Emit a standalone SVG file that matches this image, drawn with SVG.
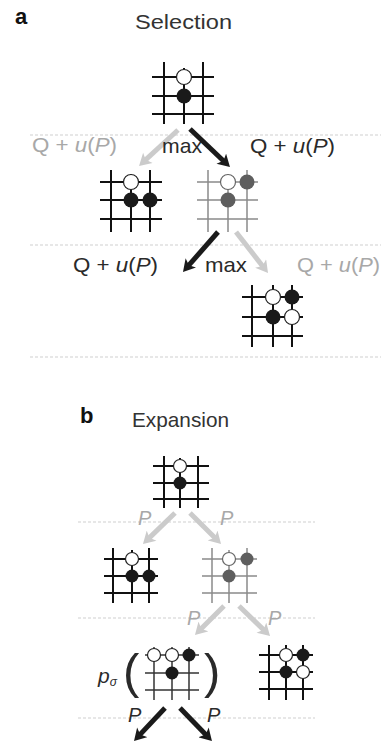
<svg xmlns="http://www.w3.org/2000/svg" width="381" height="741" viewBox="0 0 381 741">
<style>
  .t { font-family: "Liberation Sans", Arial, sans-serif; }
  .dark { fill: #2a2a2a; }
  .grey { fill: #a8a8a8; }
  .head { font-size: 21px; fill: #333; }
  .lbl { font-size: 21px; }
  .pl { font-size: 20px; }
  .it { font-style: italic; }
  .bold { font-weight: bold; font-size: 22px; fill: #111; }
  .dot { stroke: #cfcfcf; stroke-width: 1; stroke-dasharray: 3 2; fill: none; }
  .gb line { stroke: #111; stroke-width: 2; }
  .gg line { stroke: #8a8a8a; stroke-width: 1.5; }
  .gt line { stroke: #333; stroke-width: 1.5; }
  .w { fill: #fff; stroke: #222; stroke-width: 1.2; }
  .b { fill: #1a1a1a; }
  .g { fill: #5e5e5e; }
  .ab { stroke: #1a1a1a; stroke-width: 5; fill: none; }
  .ag { stroke: #cbcbcb; stroke-width: 5; fill: none; }
</style>
<defs>
  <marker id="hb" markerUnits="userSpaceOnUse" markerWidth="14" markerHeight="14" viewBox="0 0 13 14" refX="5" refY="7" orient="auto">
    <path d="M0,0 L12,7 L0,14 L3,7 z" fill="#1a1a1a"/>
  </marker>
  <marker id="hg" markerUnits="userSpaceOnUse" markerWidth="14" markerHeight="14" viewBox="0 0 13 14" refX="5" refY="7" orient="auto">
    <path d="M0,0 L12,7 L0,14 L3,7 z" fill="#cbcbcb"/>
  </marker>
</defs>

<g id="guides">
  <line class="dot" x1="30" y1="135" x2="381" y2="135"/>
  <line class="dot" x1="30" y1="245" x2="381" y2="245"/>
  <line class="dot" x1="30" y1="357" x2="381" y2="357"/>
  <line class="dot" x1="78" y1="522" x2="315" y2="522"/>
  <line class="dot" x1="78" y1="618" x2="315" y2="618"/>
  <line class="dot" x1="78" y1="718" x2="315" y2="718"/>
</g>

<g id="titles">
  <text class="t bold" x="15" y="24">a</text>
  <text class="t head" x="135" y="29" textLength="97" lengthAdjust="spacingAndGlyphs">Selection</text>
  <text class="t bold" x="80" y="423">b</text>
  <text class="t head" x="132" y="427" textLength="97" lengthAdjust="spacingAndGlyphs">Expansion</text>
</g>

<g id="connectors">
  <path class="ag" d="M178,130 L144.2,161.2" marker-end="url(#hg)"/>
  <path class="ab" d="M190,129 L224.9,162.2" marker-end="url(#hb)"/>
  <path class="ab" d="M218,232 L187.6,266.7" marker-end="url(#hb)"/>
  <path class="ag" d="M236,232 L263.7,267.5" marker-end="url(#hg)"/>
  <path class="ag" d="M175,513 L148,539.1" marker-end="url(#hg)"/>
  <path class="ag" d="M190,513 L216.1,539.1" marker-end="url(#hg)"/>
  <path class="ag" d="M224,606 L199.9,630.1" marker-end="url(#hg)"/>
  <path class="ag" d="M239,606 L265,631.1" marker-end="url(#hg)"/>
  <path class="ab" d="M165,708 L138.8,735.9" marker-end="url(#hb)"/>
  <path class="ab" d="M180,708 L207.1,736" marker-end="url(#hb)"/>
</g>

<g id="labels">
  <text class="t lbl grey" x="32" y="152" textLength="85" lengthAdjust="spacingAndGlyphs">Q + <tspan class="it">u</tspan>(<tspan class="it">P</tspan>)</text>
  <text class="t lbl dark" x="162" y="153" textLength="40" lengthAdjust="spacingAndGlyphs">max</text>
  <text class="t lbl dark" x="250" y="153" textLength="85" lengthAdjust="spacingAndGlyphs">Q + <tspan class="it">u</tspan>(<tspan class="it">P</tspan>)</text>
  <text class="t lbl dark" x="73" y="272" textLength="85" lengthAdjust="spacingAndGlyphs">Q + <tspan class="it">u</tspan>(<tspan class="it">P</tspan>)</text>
  <text class="t lbl dark" x="205" y="272" textLength="42" lengthAdjust="spacingAndGlyphs">max</text>
  <text class="t lbl grey" x="297" y="272" textLength="83" lengthAdjust="spacingAndGlyphs">Q + <tspan class="it">u</tspan>(<tspan class="it">P</tspan>)</text>
  <text class="t pl grey it" x="138" y="525">P</text>
  <text class="t pl grey it" x="220" y="525">P</text>
  <text class="t pl grey it" x="187" y="625">P</text>
  <text class="t pl grey it" x="268" y="625">P</text>
  <text class="t pl dark it" x="128" y="722">P</text>
  <text class="t pl dark it" x="207" y="722">P</text>
</g>

<g id="board-root-a" class="gb">
  <line x1="152" y1="77" x2="214" y2="77"/>
  <line x1="152" y1="96" x2="214" y2="96"/>
  <line x1="152" y1="114" x2="214" y2="114"/>
  <line x1="164" y1="62" x2="164" y2="124"/>
  <line x1="184" y1="68" x2="184" y2="124"/>
  <line x1="203" y1="62" x2="203" y2="124"/>
  <circle class="w" cx="184" cy="77" r="7.5"/>
  <circle class="b" cx="184" cy="96" r="7.5"/>
</g>

<g id="board-a-left" class="gb">
  <line x1="100" y1="182" x2="162" y2="182"/>
  <line x1="100" y1="200" x2="162" y2="200"/>
  <line x1="100" y1="219" x2="162" y2="219"/>
  <line x1="111" y1="170" x2="111" y2="232"/>
  <line x1="131" y1="174" x2="131" y2="232"/>
  <line x1="150" y1="170" x2="150" y2="232"/>
  <circle class="w" cx="131" cy="182" r="7.5"/>
  <circle class="b" cx="131" cy="200" r="7.5"/>
  <circle class="b" cx="150" cy="200" r="7.5"/>
</g>

<g id="board-a-right" class="gg">
  <line x1="197" y1="182" x2="258" y2="182"/>
  <line x1="197" y1="200" x2="258" y2="200"/>
  <line x1="197" y1="219" x2="258" y2="219"/>
  <line x1="208" y1="170" x2="208" y2="232"/>
  <line x1="228" y1="174" x2="228" y2="232"/>
  <line x1="247" y1="170" x2="247" y2="232"/>
  <circle class="w" cx="228" cy="182" r="7.5" style="stroke:#666"/>
  <circle class="g" cx="247" cy="182" r="7.5"/>
  <circle class="g" cx="228" cy="200" r="7.5"/>
</g>

<g id="board-a-leaf" class="gb">
  <line x1="242" y1="297" x2="303" y2="297"/>
  <line x1="242" y1="317" x2="303" y2="317"/>
  <line x1="242" y1="336" x2="303" y2="336"/>
  <line x1="252" y1="285" x2="252" y2="347"/>
  <line x1="273" y1="285" x2="273" y2="347"/>
  <line x1="292" y1="285" x2="292" y2="347"/>
  <circle class="w" cx="273" cy="297" r="7.5"/>
  <circle class="b" cx="292" cy="297" r="7.5"/>
  <circle class="b" cx="273" cy="317" r="7.5"/>
  <circle class="w" cx="292" cy="317" r="7.5"/>
</g>

<g id="board-root-b" class="gb">
  <line x1="153" y1="466" x2="209" y2="466"/>
  <line x1="153" y1="483" x2="209" y2="483"/>
  <line x1="153" y1="499" x2="209" y2="499"/>
  <line x1="164" y1="456" x2="164" y2="508"/>
  <line x1="180" y1="458" x2="180" y2="508"/>
  <line x1="198" y1="456" x2="198" y2="508"/>
  <circle class="w" cx="180" cy="466" r="6.5"/>
  <circle class="b" cx="180" cy="483" r="6.5"/>
</g>

<g id="board-b-left" class="gb">
  <line x1="104" y1="559" x2="158" y2="559"/>
  <line x1="104" y1="576" x2="158" y2="576"/>
  <line x1="104" y1="593" x2="158" y2="593"/>
  <line x1="113" y1="548" x2="113" y2="603"/>
  <line x1="132" y1="550" x2="132" y2="603"/>
  <line x1="149" y1="548" x2="149" y2="603"/>
  <circle class="w" cx="132" cy="559" r="6.5"/>
  <circle class="b" cx="132" cy="576" r="6.5"/>
  <circle class="b" cx="149" cy="576" r="6.5"/>
</g>

<g id="board-b-right" class="gg">
  <line x1="202" y1="559" x2="257" y2="559"/>
  <line x1="202" y1="576" x2="257" y2="576"/>
  <line x1="202" y1="593" x2="257" y2="593"/>
  <line x1="212" y1="548" x2="212" y2="603"/>
  <line x1="229" y1="550" x2="229" y2="603"/>
  <line x1="247" y1="548" x2="247" y2="603"/>
  <circle class="w" cx="229" cy="559" r="6.5" style="stroke:#666"/>
  <circle class="g" cx="247" cy="559" r="6.5"/>
  <circle class="g" cx="229" cy="576" r="6.5"/>
</g>

<g id="board-b-policy">
  <text class="t dark" x="98" y="683" style="font-size:21px;font-style:italic">p<tspan dy="3" style="font-size:12px">σ</tspan></text>
  <text class="t dark" x="123" y="688" style="font-size:49px">(</text>
  <text class="t dark" x="204" y="688" style="font-size:49px">)</text>
  <g class="gt">
    <line x1="145" y1="655" x2="199" y2="655"/>
    <line x1="145" y1="673" x2="199" y2="673"/>
    <line x1="145" y1="690" x2="199" y2="690"/>
    <line x1="154" y1="647" x2="154" y2="700"/>
    <line x1="172" y1="647" x2="172" y2="700"/>
    <line x1="189" y1="647" x2="189" y2="700"/>
  </g>
  <circle class="w" cx="154" cy="655" r="6.5"/>
  <circle class="w" cx="172" cy="655" r="6.5"/>
  <circle class="b" cx="189" cy="655" r="6.5"/>
  <circle class="b" cx="172" cy="673" r="6.5"/>
</g>

<g id="board-b-leaf" class="gb">
  <line x1="259" y1="655" x2="313" y2="655"/>
  <line x1="259" y1="672" x2="313" y2="672"/>
  <line x1="259" y1="689" x2="313" y2="689"/>
  <line x1="269" y1="645" x2="269" y2="700"/>
  <line x1="286" y1="645" x2="286" y2="700"/>
  <line x1="303" y1="645" x2="303" y2="700"/>
  <circle class="w" cx="286" cy="655" r="6.5"/>
  <circle class="b" cx="303" cy="655" r="6.5"/>
  <circle class="b" cx="286" cy="672" r="6.5"/>
  <circle class="w" cx="303" cy="672" r="6.5"/>
</g>
</svg>
